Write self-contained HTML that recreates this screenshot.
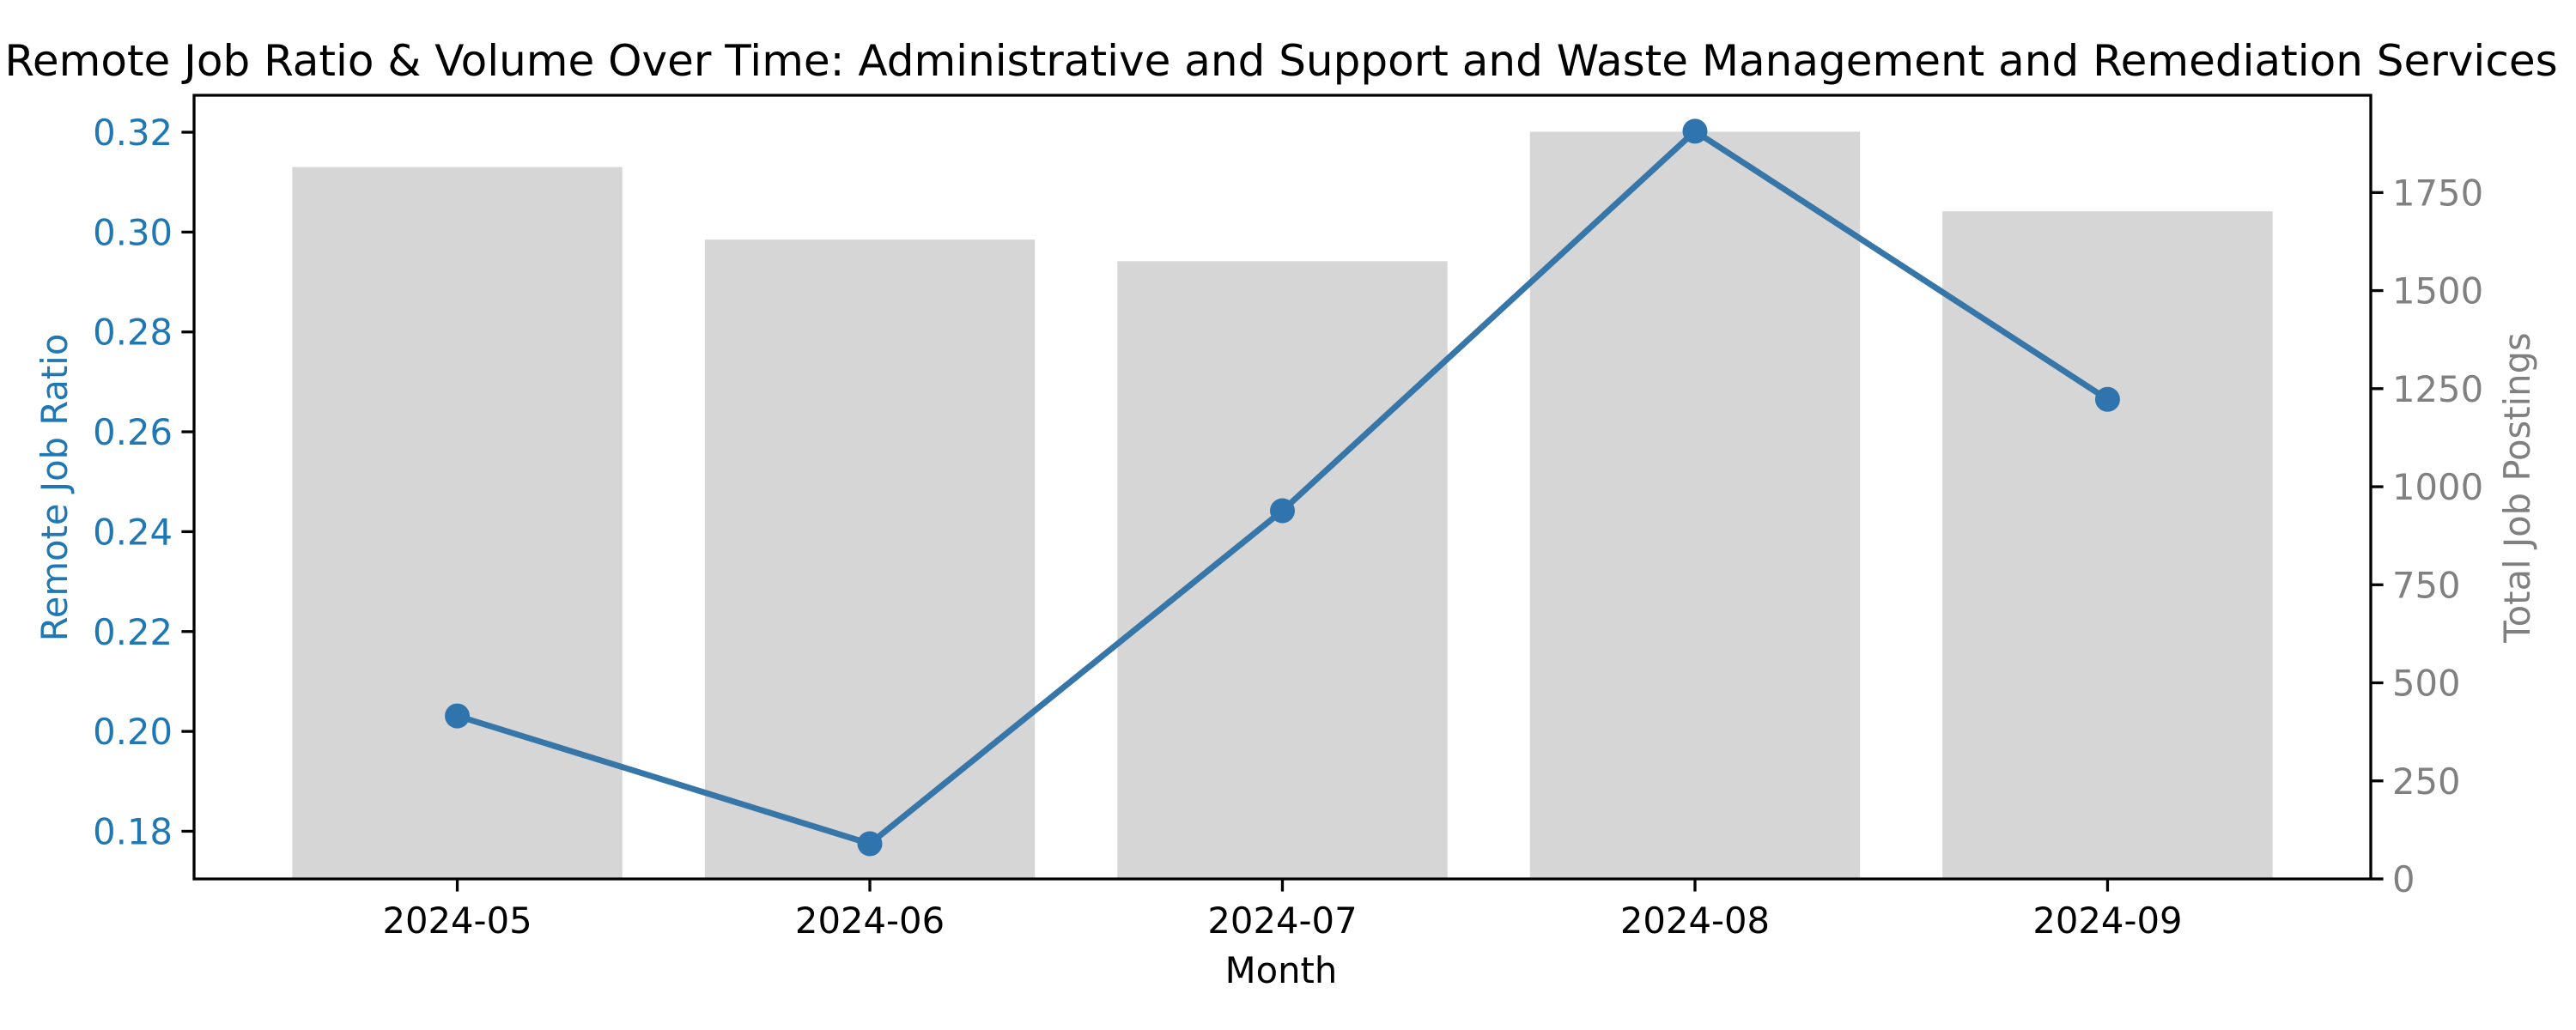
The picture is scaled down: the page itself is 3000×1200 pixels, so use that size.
<!DOCTYPE html>
<html><head><meta charset="utf-8"><style>
html,body{margin:0;padding:0;background:#fff;}
svg{display:block;font-family:"DejaVu Sans","Liberation Sans",sans-serif;}
</style></head><body>
<svg id="chart" width="3000" height="1200" viewBox="0 0 3000 1200" xmlns="http://www.w3.org/2000/svg">
<text x="1492" y="88" font-size="50" text-anchor="middle" fill="#000">Remote Job Ratio &amp; Volume Over Time: Administrative and Support and Waste Management and Remediation Services</text>
<g id="bars"></g>
<g id="line"></g>
<g id="axes"></g>
<text x="1492" y="1145" font-size="41.7" text-anchor="middle" fill="#000">Month</text>
<text transform="translate(78,568) rotate(-90)" font-size="41.7" text-anchor="middle" fill="#1f77b4">Remote Job Ratio</text>
<text transform="translate(2946,568) rotate(-90)" font-size="41.7" text-anchor="middle" fill="#808080">Total Job Postings</text>
</svg>
<script>
const months = ["2024-05","2024-06","2024-07","2024-08","2024-09"];
const postings = [1815, 1630, 1575, 1905, 1702];
const ratios = [0.2031, 0.1775, 0.2442, 0.3202, 0.2665];
const ratioTicks = [0.18, 0.20, 0.22, 0.24, 0.26, 0.28, 0.30, 0.32];
const postTicks = [0, 250, 500, 750, 1000, 1250, 1500, 1750];

const NS = "http://www.w3.org/2000/svg";
const L = 226, R = 2761, T = 111, B = 1024;
const xMin = -0.638, xMax = 4.638;
const rMin = 0.17045, rMax = 0.3274;
const pMax = 1998;
function xs(i){ return L + (i - xMin) / (xMax - xMin) * (R - L); }
function yr(v){ return B - (v - rMin) / (rMax - rMin) * (B - T); }
function yp(v){ return B - v / pMax * (B - T); }
function mk(tag, attrs, parent){ const e = document.createElementNS(NS, tag); for (const k in attrs) e.setAttribute(k, attrs[k]); parent.appendChild(e); return e; }

const bars = document.getElementById('bars');
const bw = 0.8 * (xs(1) - xs(0));
postings.forEach((v, i) => {
  const r = mk('rect', {x: xs(i) - bw/2, y: yp(v), width: bw, height: B - yp(v), fill: '#d6d6d6'}, bars);
  
  
});

const line = document.getElementById('line');
const pts = ratios.map((v, i) => xs(i) + ',' + yr(v)).join(' ');
const pl = mk('polyline', {points: pts, fill: 'none', stroke: '#3676a8', 'stroke-width': 7, 'stroke-linejoin': 'round'}, line);


ratios.forEach((v, i) => {
  const c = mk('circle', {cx: xs(i), cy: yr(v), r: 14.5, fill: '#2f74ad'}, line);
  
  
});

const axes = document.getElementById('axes');
const frame = mk('path', {d: `M${L},${T} H${R} V${B} H${L} Z`, fill: 'none', stroke: '#000', 'stroke-width': 3.3}, axes);


months.forEach((m, i) => {
  mk('line', {x1: xs(i), x2: xs(i), y1: B, y2: B + 14.6, stroke: '#000', 'stroke-width': 3.3}, axes);
  const t = mk('text', {x: xs(i), y: 1087, 'font-size': 41.7, 'text-anchor': 'middle', fill: '#000'}, axes);
  t.textContent = m;
  
  
});
ratioTicks.forEach(v => {
  const y = yr(v);
  mk('line', {x1: L - 14.6, x2: L, y1: y, y2: y, stroke: '#000', 'stroke-width': 3.3}, axes);
  const t = mk('text', {x: L - 25, y: y + 15, 'font-size': 41.7, 'text-anchor': 'end', fill: '#1f77b4'}, axes);
  t.textContent = v.toFixed(2);
  
  
});
postTicks.forEach(v => {
  const y = yp(v);
  mk('line', {x1: R, x2: R + 14.6, y1: y, y2: y, stroke: '#000', 'stroke-width': 3.3}, axes);
  const t = mk('text', {x: R + 25, y: y + 15, 'font-size': 41.7, 'text-anchor': 'start', fill: '#808080'}, axes);
  t.textContent = String(v);
  
  
});
</script>
</body></html>
